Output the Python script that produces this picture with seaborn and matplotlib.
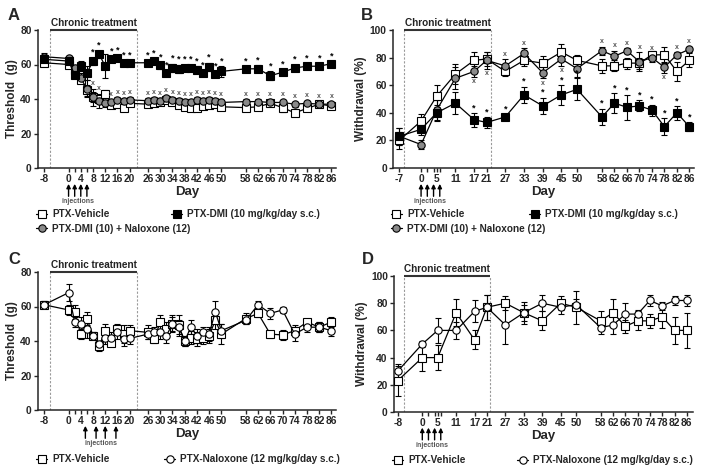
import matplotlib
matplotlib.use("Agg")
import matplotlib.pyplot as plt
import matplotlib.transforms as mtransforms
from matplotlib.lines import Line2D
import numpy as np
import pandas as pd
import seaborn as sns

# ---------------- data ----------------
days_A = [-8, 0, 2, 4, 6, 8, 10, 12, 14, 16, 18, 20, 26, 28, 30, 32, 34, 36, 38, 40, 42, 44, 46, 48, 50,
          58, 62, 66, 70, 74, 78, 82, 86]
A_vehicle = [61, 60, 57, 51, 45, 41, 40, 43, 36.5, 37, 35, 37.5, 37, 37.5, 38, 39.5, 38, 36.5, 35.5, 35, 34.5,
             36, 36.5, 37, 35.5, 35, 35.5, 37.5, 35, 32, 34.5, 37, 36]
A_vehicle_err = [2, 1.5, 2, 2, 3, 3, 2, 2, 1.5, 1.5, 2, 1.5, 1.5, 1.5, 1.5, 1.5, 1.5, 1.5, 1.5, 1.5, 1.5, 1.5,
                 1.5, 1.5, 1.5, 1.5, 1.5, 1.5, 2.5, 1.5, 1.5, 1.5, 1.5]
A_dmi = [63, 62, 54, 59, 55, 62, 66, 59, 63, 63.5, 61, 61, 61, 62, 59.5, 55, 58, 57.5, 58, 58, 57, 55, 58.5,
         54.5, 56, 57.5, 57.5, 53.5, 55.5, 58, 59, 59, 60.5]
A_dmi_err = [2, 1.5, 2, 3, 4, 2, 2, 7, 1.5, 1.5, 1.5, 1.5, 1.5, 1.5, 2, 1.5, 2.5, 2.5, 2, 2, 2, 1.5, 2.5, 1.5,
             3, 1.5, 2, 2.5, 1.5, 2, 1.5, 1.5, 1.5]
A_nal = [64.5, 63.5, 58, 52, 46, 41, 39, 37.5, 38, 39.5, 39, 39.5, 39, 39.5, 39, 40.5, 39.5, 39, 38.5, 38.5,
         39.5, 39, 39.5, 39, 38, 38.5, 38.5, 38, 38, 37, 37.5, 37, 37]
A_nal_err = [2, 1.5, 2, 3, 5, 5, 4, 2, 1.5, 1.5, 1.5, 1.5, 1.5, 1.5, 1.5, 1.5, 1.5, 1.5, 1.5, 1.5, 1.5, 1.5,
             1.5, 1.5, 1.5, 1.5, 1.5, 1.5, 1.5, 1.5, 1.5, 1.5, 1.5]
A_dmi_star = [8, 10, 14, 16, 18, 20, 26, 28, 30, 32, 34, 36, 38, 40, 42, 44, 46, 48, 50, 58, 62, 66, 70, 74, 78,
              82, 86]
A_nal_star = [8, 10, 14, 16, 18, 20, 26, 28, 30, 32, 34, 36, 38, 40, 42, 44, 46, 48, 50, 58, 62, 66, 70, 74, 78,
              82, 86]
xticks_A = [-8, 0, 4, 8, 12, 16, 20, 26, 30, 34, 38, 42, 46, 50, 58, 62, 66, 70, 74, 78, 82, 86]

days_B = [-7, 0, 5, 11, 17, 21, 27, 33, 39, 45, 50, 58, 62, 66, 70, 74, 78, 82, 86]
B_vehicle = [20, 34, 52, 68, 78, 79, 70, 78, 76, 84, 78, 74, 74, 76, 76, 82, 82, 70, 78]
B_vehicle_err = [6, 5, 8, 7, 6, 5, 3, 4, 5, 6, 4, 5, 4, 4, 4, 3, 6, 7, 5]
B_dmi = [23, 28, 40, 47, 35, 33, 37, 53, 45, 53, 57, 37, 47, 44, 45, 42, 30, 40, 30]
B_dmi_err = [6, 4, 6, 8, 5, 4, 2, 6, 6, 7, 8, 6, 7, 9, 4, 4, 6, 5, 3]
B_nal = [23, 17, 42, 65, 70, 78, 74, 83, 69, 79, 72, 85, 81, 85, 77, 80, 73, 82, 86]
B_nal_err = [6, 3, 7, 8, 4, 6, 5, 4, 4, 5, 6, 3, 4, 2, 7, 3, 4, 2, 2]
B_dmi_star = [17, 21, 27, 33, 39, 45, 50, 58, 62, 66, 70, 74, 78, 82, 86]
B_nal_star_up = [27, 33, 58, 62, 66, 70, 74, 82, 86]
B_nal_star_down = [17, 21, 39, 45, 78]
xticks_B = [-7, 0, 5, 11, 17, 21, 27, 33, 39, 45, 50, 58, 62, 66, 70, 74, 78, 82, 86]

days_C = days_A
C_vehicle = [61, 58, 57, 44, 53, 43, 37, 46, 39, 47, 44, 46, 45, 41, 51, 47, 50, 49, 40, 42, 41, 42, 43, 52, 44,
             53, 56, 44, 43.5, 46, 51, 48, 51]
C_vehicle_err = [2, 3, 4, 3, 4, 2, 3, 4, 2, 3, 5, 3, 4, 2, 4, 4, 5, 6, 3, 4, 4, 4, 4, 5, 6, 3, 2, 2, 3, 3, 2, 3, 3]
C_nal = [61, 68, 51, 50, 47, 43, 38, 42, 42, 45, 41, 41.5, 44, 45, 45, 43, 50, 48, 40, 48, 43, 45, 44, 57, 46,
         52, 61, 56, 58, 44, 48, 48, 46]
C_nal_err = [2, 5, 3, 4, 5, 2, 2, 4, 3, 4, 4, 3, 3, 3, 4, 4, 4, 4, 3, 4, 4, 3, 4, 6, 4, 2, 2, 3, 2, 4, 3, 3, 3]
xticks_C = xticks_A

days_D = [-8, 0, 5, 11, 17, 21, 27, 33, 39, 45, 50, 58, 62, 66, 70, 74, 78, 82, 86]
D_vehicle = [23, 40, 40, 73, 53, 77, 80, 73, 67, 80, 77, 67, 73, 63, 67, 67, 70, 60, 60]
D_vehicle_err = [11, 10, 9, 10, 7, 9, 5, 8, 7, 5, 12, 7, 10, 5, 7, 5, 8, 10, 13]
D_nal = [30, 50, 60, 60, 74, 77, 64, 73, 80, 77, 79, 62, 64, 72, 72, 82, 78, 82, 82]
D_nal_err = [5, 2, 9, 6, 8, 9, 14, 6, 6, 5, 4, 5, 7, 8, 3, 4, 3, 3, 4]
xticks_D = [-8, 0, 5, 11, 17, 21, 27, 33, 39, 45, 50, 58, 62, 66, 70, 74, 78, 82, 86]

label_vehicle = "PTX-Vehicle"
label_dmi = "PTX-DMI (10 mg/kg/day s.c.)"
label_dmi_nal = "PTX-DMI (10) + Naloxone (12)"
label_nal = "PTX-Naloxone (12 mg/kg/day s.c.)"

# ---------------- style ----------------
sns.set_theme(style="ticks")
plt.rcParams["font.family"] = ["Liberation Sans", "DejaVu Sans"]
plt.rcParams["font.weight"] = "bold"
plt.rcParams["axes.labelweight"] = "bold"
plt.rcParams["axes.linewidth"] = 1.1
plt.rcParams["xtick.major.width"] = 1.0
plt.rcParams["ytick.major.width"] = 1.0
plt.rcParams["xtick.minor.width"] = 1.0
plt.rcParams["xtick.major.size"] = 3
plt.rcParams["ytick.major.size"] = 3
plt.rcParams["xtick.minor.size"] = 3
plt.rcParams["xtick.major.pad"] = 1.5
plt.rcParams["ytick.major.pad"] = 1.5

GREY = "#8a8a8a"
styles = {
    "vehicle_sq": dict(marker="s", markerfacecolor="white"),
    "dmi_sq": dict(marker="s", markerfacecolor="black"),
    "nal_grey": dict(marker="o", markerfacecolor=GREY),
    "nal_white": dict(marker="o", markerfacecolor="white"),
}

fig = plt.figure(figsize=(7.06, 4.75), dpi=100)
W, H = 706, 475


def add_axes(left, top, right, bottom):
    return fig.add_axes([left / W, 1 - bottom / H, (right - left) / W, (bottom - top) / H])


def draw_series(ax, days, vals, err, style):
    ax.errorbar(days, vals, yerr=err, fmt="none", ecolor="black", elinewidth=0.8,
                capsize=2, capthick=0.8, zorder=2)
    sns.lineplot(x=days, y=vals, ax=ax, color="black", linewidth=0.9, markersize=5.3,
                 markeredgecolor="black", markeredgewidth=0.8, errorbar=None, zorder=3,
                 **styles[style])


def decorate(ax, xlim, ymax, yticks, xticks, minor, dash, arrows, ylabel):
    ax.set_xlim(*xlim)
    ax.set_ylim(0, ymax)
    ax.set_yticks(yticks)
    ax.set_xticks(xticks)
    ax.set_xticklabels([str(t) for t in xticks])
    ax.set_xticks(minor, minor=True)
    ax.tick_params(axis="both", labelsize=7.4)
    ax.tick_params(axis="x", which="minor", length=3)
    sns.despine(ax=ax)
    ax.spines["left"].set_bounds(0, ymax)
    ax.set_xlabel("Day", fontsize=9.5, labelpad=1)
    ax.set_ylabel(ylabel, fontsize=8.5, labelpad=2)
    for lab in ax.get_xticklabels() + ax.get_yticklabels():
        lab.set_fontweight("bold")
    x0, x1 = dash
    for xd in dash:
        ax.plot([xd, xd], [0, ymax], ls=(0, (2, 1.5)), color="#9a9a9a", lw=0.8, zorder=1)
    ax.plot([x0, x1], [ymax, ymax], color="#333333", lw=1.5, clip_on=False, zorder=4,
            solid_capstyle="butt")
    ax.annotate("Chronic treatment", xy=((x0 + x1) / 2, ymax), xytext=(0, 1.5),
                textcoords="offset points", ha="center", va="bottom", fontsize=7.2,
                fontweight="bold", color="#222222")
    trans = mtransforms.blended_transform_factory(ax.transData, ax.transAxes)
    for d in arrows:
        ax.annotate("", xy=(d, -0.115), xycoords=trans, xytext=(d, -0.205), textcoords=trans,
                    arrowprops=dict(arrowstyle="-|>", color="black", lw=1.0, mutation_scale=6,
                                    shrinkA=0, shrinkB=0))
    ax.text((arrows[0] + arrows[-1]) / 2, -0.245, "injections", transform=trans, ha="center",
            va="center", fontsize=5, color="#555555", fontweight="bold")


def stars(ax, days, sel, vals, err, sym, above=True, color="black", size=6, off=1.5):
    for d, v, e in zip(days, vals, err):
        if d in sel:
            y = v + e + off if above else v - e - off - 1
            ax.text(d, y, sym, ha="center", va="bottom" if above else "top", fontsize=size,
                    color=color, fontweight="bold")


def handle(style):
    return Line2D([0], [0], color="black", lw=0.9, markersize=5.3, markeredgecolor="black",
                  markeredgewidth=0.8, **styles[style])


def leg(handles, labels, x, y):
    fig.legend(handles, labels, loc="upper left", bbox_to_anchor=(x / W, 1 - y / H), frameon=False,
               handlelength=1.1, handletextpad=0.5, labelspacing=0.45,
               borderaxespad=0, borderpad=0, prop=dict(weight="bold", size=7.2))


# ---------------- Panel A ----------------
axA = add_axes(38, 30, 336, 168)
draw_series(axA, days_A, A_vehicle, A_vehicle_err, "vehicle_sq")
draw_series(axA, days_A, A_nal, A_nal_err, "nal_grey")
draw_series(axA, days_A, A_dmi, A_dmi_err, "dmi_sq")
decorate(axA, (-10, 87.5), 80, [0, 20, 40, 60, 80], xticks_A, [2, 6], (-6, 22.3), [0, 2, 4, 6],
         "Threshold  (g)")
stars(axA, days_A, A_dmi_star, A_dmi, A_dmi_err, "*", size=6.5, off=0.5)
stars(axA, days_A, A_nal_star, A_nal, A_nal_err, "x", color="#555555", size=5, off=0.8)

# ---------------- Panel B ----------------
axB = add_axes(393, 30, 694, 168)
draw_series(axB, days_B, B_vehicle, B_vehicle_err, "vehicle_sq")
draw_series(axB, days_B, B_nal, B_nal_err, "nal_grey")
draw_series(axB, days_B, B_dmi, B_dmi_err, "dmi_sq")
decorate(axB, (-9, 87.5), 100, [0, 20, 40, 60, 80, 100], xticks_B, [2, 4, 6], (-5.5, 22.5),
         [0, 2, 4, 6], "Withdrawal (%)")
stars(axB, days_B, B_dmi_star, B_dmi, B_dmi_err, "*", size=6.5, off=0.5)
stars(axB, days_B, B_nal_star_up, B_nal, B_nal_err, "x", color="#555555", size=5, off=1)
stars(axB, days_B, B_nal_star_down, B_nal, B_nal_err, "x", above=False, color="#555555", size=5, off=0)

# ---------------- Panel C ----------------
axC = add_axes(38, 272, 336, 410)
draw_series(axC, days_C, C_vehicle, C_vehicle_err, "vehicle_sq")
draw_series(axC, days_C, C_nal, C_nal_err, "nal_white")
decorate(axC, (-10, 87.5), 80, [0, 20, 40, 60, 80], xticks_C, [2, 6], (-6, 22.3), [5.5, 9, 12, 15.5],
         "Threshold  (g)")

# ---------------- Panel D ----------------
axD = add_axes(394, 276, 693, 412)
draw_series(axD, days_D, D_vehicle, D_vehicle_err, "vehicle_sq")
draw_series(axD, days_D, D_nal, D_nal_err, "nal_white")
decorate(axD, (-9.2, 88), 100, [0, 20, 40, 60, 80, 100], xticks_D, [2, 4, 6], (-6, 22),
         [0, 2, 4, 6], "Withdrawal (%)")

for ax in (axA, axB, axC, axD):
    leg_ = ax.get_legend()
    if leg_ is not None:
        leg_.remove()

# ---------------- legends ----------------
leg([handle("vehicle_sq"), handle("nal_grey")], [label_vehicle, label_dmi_nal], 36, 209)
leg([handle("dmi_sq")], [label_dmi], 171, 209)
leg([handle("vehicle_sq"), handle("nal_grey")], [label_vehicle, label_dmi_nal], 391, 209)
leg([handle("dmi_sq")], [label_dmi], 529, 209)
leg([handle("vehicle_sq")], [label_vehicle], 36, 454)
leg([handle("nal_white")], [label_nal], 164, 454)
leg([handle("vehicle_sq")], [label_vehicle], 392, 455)
leg([handle("nal_white")], [label_nal], 517, 455)

# ---------------- panel letters ----------------
for txt, x, y in (("A", 8, 15), ("B", 361, 15), ("C", 8, 260), ("D", 362, 260)):
    fig.text(x / W, 1 - y / H, txt, fontsize=12, fontweight="bold", ha="left", va="center")

fig.savefig("out.png", dpi=100)
